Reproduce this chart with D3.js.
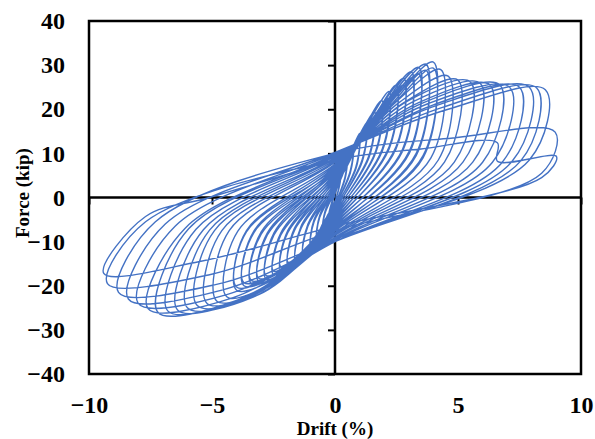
<!DOCTYPE html>
<html>
<head>
<meta charset="utf-8">
<script src="https://cdn.jsdelivr.net/npm/d3@7"></script>
<style>
  body { margin: 0; background: #fff; }
  svg { display: block; }
</style>
</head>
<body>
<div id="chart"></div>
<script>
// axis ticks
var xTicks = [-10, -5, 0, 5, 10];
var yTicks = [-40, -30, -20, -10, 0, 10, 20, 30, 40];

// positive peak of every cycle (drift %, force kip); early levels are run twice
var posD = [0.25, 0.25, 0.5, 0.5, 0.75, 0.75, 1.0, 1.0, 1.3, 1.3, 1.6, 1.6, 1.9, 1.9, 2.2, 2.2, 2.5, 2.5, 2.8, 2.8, 3.1, 3.1, 3.4, 3.4, 3.7, 3.7, 4.0, 4.0,
  4.3, 4.6, 5.0, 5.5, 5.9, 6.3, 6.7, 7.1, 7.5, 7.9, 8.2, 8.55, 8.95, 9.0];
var posF = [6, 5.5, 9, 8.3, 12, 11, 14.5, 13.5, 17, 16, 19.5, 18.3, 22, 20.7, 24, 22.5, 25.5, 24, 27, 25.5, 28.5, 27, 29.5, 28, 30.2, 28.8, 30.7, 29.3,
  29, 27.5, 26.6, 26.2, 25.9, 25.5, 25.5, 25, 25, 25, 24.8, 24.4, 14.8, 9.3];
// point on the loading branch before the positive peak
var posMidD = [0.13, 0.14, 0.27, 0.3, 0.4, 0.45, 0.55, 0.62, 0.72, 0.8, 0.9, 1.0, 1.05, 1.15, 1.25, 1.35, 1.45, 1.55, 1.6, 1.7, 1.8, 1.9, 1.95, 2.05, 2.1, 2.2, 2.25, 2.35,
  2.45, 2.6, 2.8, 3.0, 3.2, 3.4, 3.6, 3.8, 4.0, 4.2, 4.4, 4.6, 4.8, 3.5];
var posMidF = [3.5, 3, 5.5, 5, 7.5, 7, 9, 8.5, 11, 10.5, 13, 12.5, 14.5, 14, 16, 15.5, 17, 16.5, 18.5, 18, 19.5, 19, 20.5, 20, 21, 20.5, 21.5, 21,
  21.5, 21.5, 21.5, 22, 21.8, 21.5, 21.5, 21.3, 21, 21, 20.5, 20, 13.5, 11];
// end of the unloading after the positive peak
var posKneeD = [0.18, 0.18, 0.4, 0.4, 0.62, 0.62, 0.85, 0.85, 1.1, 1.1, 1.38, 1.38, 1.65, 1.65, 1.92, 1.92, 2.2, 2.2, 2.48, 2.48, 2.75, 2.75, 3.02, 3.02, 3.3, 3.3, 3.58, 3.58,
  3.9, 4.2, 4.45, 4.85, 5.2, 5.6, 6.0, 6.4, 6.8, 7.2, 7.55, 7.9, 8.4, 8.4];
var posKneeF = [3, 2.5, 4.5, 4, 6, 5.5, 7, 6.5, 8.5, 8, 9.5, 9, 10.5, 10, 11, 10.5, 11.5, 11, 11.5, 11, 11, 10.5, 10.5, 10, 10, 9.5, 9.5, 9,
  9, 8.5, 8, 8, 8, 8, 8, 8, 8, 8.2, 8.3, 8.5, 5.5, 4.5];
// force where the branches cross zero drift
var upAxisF = [1, 0.8, 1.5, 1.3, 2, 1.8, 2.5, 2.2, 3, 2.7, 3.5, 3.2, 4, 3.7, 4.5, 4.2, 5, 4.7, 5.5, 5.2, 6, 5.7, 6.3, 6, 6.6, 6.3, 7, 6.7,
  7.3, 7.6, 8, 8.2, 8.5, 8.8, 9, 9.3, 9.5, 9.8, 10, 10.2, 10, 8.5];
var downAxisF = [-1, -0.8, -1.5, -1.3, -2, -1.8, -2.5, -2.2, -3, -2.7, -3.5, -3.2, -4, -3.7, -4.5, -4.2, -5, -4.7, -5.5, -5.2, -6, -5.7, -6.5, -6.2, -7, -6.7, -7.3, -7,
  -7.6, -8, -8.3, -8.6, -9, -9.2, -9.5, -9.7, -10, -10, -10, -9.5, -7.5, -6.5];
// negative peak of every cycle
var negD = [-0.25, -0.25, -0.5, -0.5, -0.75, -0.75, -1.0, -1.0, -1.3, -1.3, -1.6, -1.6, -1.9, -1.9, -2.2, -2.2, -2.5, -2.5, -2.8, -2.8, -3.1, -3.1, -3.4, -3.4, -3.7, -3.7, -4.0, -4.0,
  -4.4, -4.8, -5.2, -5.6, -6.0, -6.4, -6.8, -7.2, -7.6, -8.0, -8.4, -8.8, -9.25, -9.4];
var negF = [-4, -3.5, -7, -6.5, -9.5, -8.8, -11.5, -10.8, -13, -12.2, -14.5, -13.7, -15.5, -14.7, -16.5, -15.7, -17.5, -16.7, -18.5, -17.7, -19, -18.3, -19.5, -18.8, -20, -19.3, -21, -20.3,
  -22.5, -23.5, -24, -24.5, -25, -25.5, -25.7, -26, -25.2, -24, -23, -21.5, -19.5, -17.2];
// point on the loading branch before the negative peak
var negMidD = [-0.13, -0.14, -0.28, -0.3, -0.42, -0.46, -0.58, -0.64, -0.75, -0.82, -0.92, -1.0, -1.1, -1.2, -1.25, -1.35, -1.45, -1.55, -1.6, -1.7, -1.75, -1.85, -1.95, -2.05, -2.1, -2.2, -2.3, -2.4,
  -2.5, -2.75, -2.95, -3.1, -3.3, -3.55, -3.75, -4.0, -4.2, -4.4, -4.6, -4.9, -5.1, -5.5];
var negMidF = [-2.5, -2, -4.5, -4, -6, -5.5, -8, -7.5, -9.5, -9, -11, -10.5, -12, -11.5, -13, -12.5, -14, -13.5, -15, -14.5, -15.8, -15.3, -16.5, -16, -17, -16.5, -18, -17.5,
  -19.3, -20.3, -21, -22, -22.5, -22.8, -23, -23.3, -22.8, -22, -21, -19.8, -17.5, -14.5];
// end of the unloading after the negative peak
var negKneeD = [-0.18, -0.18, -0.4, -0.4, -0.62, -0.62, -0.85, -0.85, -1.1, -1.1, -1.38, -1.38, -1.65, -1.65, -1.92, -1.92, -2.2, -2.2, -2.48, -2.48, -2.75, -2.75, -3.0, -3.0, -3.3, -3.3, -3.6, -3.6,
  -3.95, -4.3, -4.6, -4.9, -5.1, -5.35, -5.65, -5.95, -6.1, -6.5, -6.9, -7.3, -7.7, -7.7];
var negKneeF = [-2.5, -2, -3.5, -3, -4.5, -4, -5.5, -5, -6.5, -6, -7, -6.5, -7.5, -7, -8, -7.5, -8.5, -8, -8.5, -8, -8.5, -8, -8.3, -7.8, -8, -7.6, -7.8, -7.5,
  -7.6, -7.5, -7.5, -7.5, -7.4, -7.3, -7.2, -7.1, -7, -6.5, -6, -5.5, -5.5, -4.3];
// force drop seen on the last loading branch
var lastDrop = [[6.6, 12.4], [6.6, 8.2]];
// final reloading after the last negative peak
var finalReload = [[-5.1, 0], [0, 8.5]];

var width = 595, height = 439;
var margin = { top: 21, right: 14, bottom: 65, left: 89 };

var svg = d3.select("#chart").append("svg")
  .attr("width", width)
  .attr("height", height);

var x = d3.scaleLinear().domain([-10, 10]).range([margin.left, width - margin.right]);
var y = d3.scaleLinear().domain([-40, 40]).range([height - margin.bottom, margin.top]);

var font = "'Liberation Serif', 'Times New Roman', serif";

// tick labels outside the box
var yLab = svg.append("g")
  .attr("transform", "translate(" + x(-10) + ",0)")
  .call(d3.axisLeft(y).tickValues(yTicks).tickSize(0).tickPadding(24));
var xLab = svg.append("g")
  .attr("transform", "translate(0," + y(-40) + ")")
  .call(d3.axisBottom(x).tickValues(xTicks).tickSize(0).tickPadding(22));
[yLab, xLab].forEach(function (g) {
  g.select(".domain").remove();
  g.selectAll("text")
    .attr("font-family", font)
    .attr("font-weight", "bold")
    .attr("font-size", "24px")
    .attr("fill", "#000");
});

// ticks on the zero lines
var yZero = svg.append("g")
  .attr("transform", "translate(" + x(0) + ",0)")
  .call(d3.axisLeft(y).tickValues(yTicks).tickSize(7).tickFormat(""));
var xZero = svg.append("g")
  .attr("transform", "translate(0," + y(0) + ")")
  .call(d3.axisBottom(x).tickValues(xTicks).tickSize(7).tickFormat(""));
[yZero, xZero].forEach(function (g) {
  g.select(".domain").remove();
  g.selectAll("line").attr("stroke", "#000").attr("stroke-width", 2);
});

svg.append("line")
  .attr("x1", x(-10)).attr("x2", x(10))
  .attr("y1", y(0)).attr("y2", y(0))
  .attr("stroke", "#000").attr("stroke-width", 2.5);
svg.append("line")
  .attr("x1", x(0)).attr("x2", x(0))
  .attr("y1", y(40)).attr("y2", y(-40))
  .attr("stroke", "#000").attr("stroke-width", 2.5);

// plot box
svg.append("rect")
  .attr("x", x(-10)).attr("y", y(40))
  .attr("width", x(10) - x(-10))
  .attr("height", y(-40) - y(40))
  .attr("fill", "none")
  .attr("stroke", "#000")
  .attr("stroke-width", 2.5);

// build the hysteresis path cycle by cycle
var pts = [[0, 0]];
posD.forEach(function (d, i) {
  pts.push([0, upAxisF[i]]);
  pts.push([posMidD[i], posMidF[i]]);
  if (i === posD.length - 1) lastDrop.forEach(function (p) { pts.push(p); });
  pts.push([posD[i], posF[i]]);
  pts.push([posKneeD[i], posKneeF[i]]);
  pts.push([0, downAxisF[i]]);
  pts.push([negMidD[i], negMidF[i]]);
  pts.push([negD[i], negF[i]]);
  pts.push([negKneeD[i], negKneeF[i]]);
});
finalReload.forEach(function (p) { pts.push(p); });

var line = d3.line()
  .x(function (d) { return x(d[0]); })
  .y(function (d) { return y(d[1]); })
  .curve(d3.curveCatmullRom.alpha(0.5));

svg.append("path")
  .datum(pts)
  .attr("d", line)
  .attr("fill", "none")
  .attr("stroke", "#4472C4")
  .attr("stroke-width", 1.4)
  .attr("stroke-linejoin", "round");

// axis titles
svg.append("text")
  .attr("x", x(0))
  .attr("y", 435)
  .attr("text-anchor", "middle")
  .attr("font-family", font)
  .attr("font-weight", "bold")
  .attr("font-size", "19px")
  .text("Drift (%)");

svg.append("text")
  .attr("transform", "translate(29," + y(1) + ") rotate(-90)")
  .attr("text-anchor", "middle")
  .attr("font-family", font)
  .attr("font-weight", "bold")
  .attr("font-size", "19px")
  .text("Force (kip)");
</script>
</body>
</html>
